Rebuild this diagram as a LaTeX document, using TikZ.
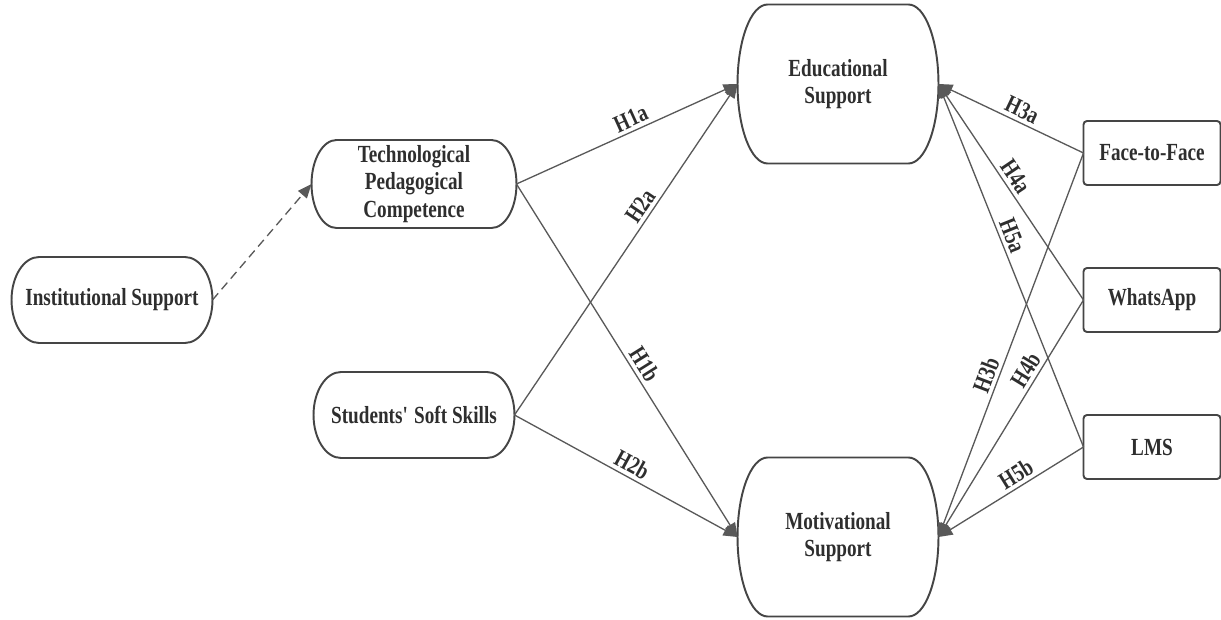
\documentclass[tikz,border=0pt]{standalone}
\usepackage{fontspec}
\usepackage{tikz}
\usetikzlibrary{arrows.meta,calc}
\newfontfamily\diagfont[FakeStretch=0.78]{Liberation Serif}
\definecolor{linkgray}{HTML}{595959}
\definecolor{boxgray}{HTML}{454545}
\definecolor{txtgray}{HTML}{2E2E2E}
\tikzset{
  every node/.style={font=\diagfont\bfseries\fontsize{14}{15.5}\selectfont,text=txtgray},
  pill/.style={align=center,outer sep=0pt,inner sep=0pt,minimum width=4.02cm,minimum height=1.72cm},
  tallpill/.style={minimum width=4.02cm,minimum height=3.18cm},
  modebox/.style={draw=boxgray,line width=1.1pt,rounded corners=2pt,outer sep=0pt,minimum width=2.74cm,minimum height=1.28cm},
  boxline/.style={draw=boxgray,line width=1.1pt},
  link/.style={draw=linkgray,line width=0.75pt},
  hlab/.style={sloped,above,inner sep=2pt},
  >={Triangle[length=8pt,width=6.5pt]}
}
\newcommand{\pillnode}[1][]{\node[pill,#1]}
\newcommand{\modenode}{\node[modebox]}
% outline of a round node: name, bulge of the sides
\newcommand{\pillline}[2]{%
  \draw[boxline] let \p1=(#1.north east), \p2=(#1.south west), \n1={(\y1-\y2)/2} in
    ([xshift=-#2]#1.north east) arc[start angle=90,end angle=-90,x radius=#2,y radius=\n1]
    -- ([xshift=#2]#1.south west) arc[start angle=270,end angle=90,x radius=#2,y radius=\n1] -- cycle;}

\begin{document}
\begin{tikzpicture}[x=0.02cm,y=0.02cm]
  \useasboundingbox (0,0) rectangle (1221,619);
  \pillnode (inst) at (112,319) {Institutional Support}; % antecedent
  \pillnode[minimum width=4.1cm,minimum height=1.76cm] (tpc) at (414,435) {Technological\\Pedagogical\\Competence};
  \pillnode (soft) at (414,204) {Students\textquotesingle\ Soft Skills};
  \pillnode[tallpill] (edu) at (838,535) {Educational\\Support}; % outcomes
  \pillnode[tallpill] (motiv) at (838,82) {Motivational\\Support};
  \modenode (f2f) at (1152,466) {Face-to-Face}; % modes
  \modenode (whats) at (1152,319) {WhatsApp};
  \modenode (lms) at (1152,172) {LMS};
  %%%% outlines
  \pillline{inst}{0.55cm}
  \pillline{tpc}{0.5cm}
  \pillline{soft}{0.55cm}
  \pillline{edu}{0.6cm}
  \pillline{motiv}{0.6cm}
  %%%% links
  \draw[link,->,dash pattern=on 5pt off 3pt] (inst.east) -- (tpc.west);
  \draw[link,->] (tpc.east) -- node[hlab,pos=0.54] {H1a} (edu.west);
  \draw[link,->] (tpc.east) -- node[hlab,pos=0.53] {H1b} (motiv.west);
  \draw[link,->] (soft.east) -- node[hlab,pos=0.61] {H2a} (edu.west);
  \draw[link,->] (soft.east) -- node[hlab,pos=0.5] {H2b} (motiv.west);
  \draw[link,<-] (edu.east) -- node[hlab,pos=0.54] {H3a} (f2f.west);
  \draw[link,<-] (edu.east) -- node[hlab,pos=0.46] {H4a} (whats.west);
  \draw[link,<-] (edu.east) -- node[hlab,pos=0.43] {H5a} (lms.west);
  \draw[link,<-] (motiv.east) -- node[hlab,pos=0.41] {H3b} (f2f.west);
  \draw[link,<-] (motiv.east) -- node[hlab,pos=0.675] {H4b} (whats.west);
  \draw[link,<-] (motiv.east) -- node[hlab,pos=0.58] {H5b} (lms.west);
\end{tikzpicture}
\end{document}
